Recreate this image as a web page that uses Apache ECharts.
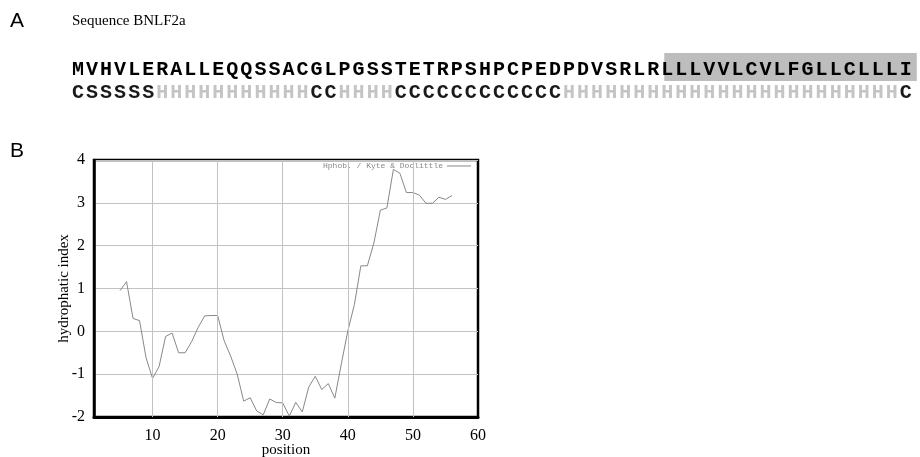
<!DOCTYPE html>
<html>
<head>
<meta charset="utf-8">
<script src="https://cdn.jsdelivr.net/npm/echarts@6/dist/echarts.min.js"></script>
<style>html,body{margin:0;padding:0;background:#fff;}#c{width:920px;height:457px;}</style>
</head>
<body>
<div id="c"></div>
<script>
// ---- data ----
var sequenceTitle = 'Sequence BNLF2a';
var sequence = 'MVHVLERALLEQQSSACGLPGSSTETRPSHPCPEDPDVSRLRLLLVVLCVLFGLLCLLLI';
var structure = 'CSSSSSHHHHHHHHHHHCCHHHHCCCCCCCCCCCCHHHHHHHHHHHHHHHHHHHHHHHHC';
var tmStart = 42;   // index of first highlighted residue (0-based)
var tmEnd = 60;     // exclusive
var positions = [5,6,7,8,9,10,11,12,13,14,15,16,17,18,19,20,21,22,23,24,25,26,27,28,29,30,
                 31,32,33,34,35,36,37,38,39,40,41,42,43,44,45,46,47,48,49,50,51,52,53,54,55,56];
var hydro = [0.95,1.16,0.30,0.25,-0.62,-1.10,-0.82,-0.12,-0.04,-0.50,-0.50,-0.24,0.09,0.36,0.37,0.37,
             -0.22,-0.58,-1.00,-1.63,-1.55,-1.86,-1.95,-1.58,-1.66,-1.67,-1.98,-1.66,-1.88,-1.30,-1.05,
             -1.36,-1.22,-1.56,-0.76,0.01,0.62,1.53,1.53,2.06,2.83,2.88,3.78,3.69,3.24,3.24,3.18,2.99,
             2.99,3.13,3.08,3.17];
var xTicks = [10,20,30,40,50,60];
var xGridLines = [10,20,30,40,50];
var legendLabel = 'Hphob. / Kyte & Doolittle';
var xName = 'position';
var yName = 'hydrophatic index';

// ---- build ----
var chart = echarts.init(document.getElementById('c'), null, {renderer:'canvas'});
var serif = '"Liberation Serif","Times New Roman",serif';
var mono = '"Liberation Mono","Courier New",monospace';

var x0 = 71, cw = 14.03;
var graphics = [
  {type:'text', left:10, top:11, style:{text:'A', font:'21px "Liberation Sans",Arial,sans-serif', fill:'#000'}},
  {type:'text', left:72, top:14, style:{text:sequenceTitle, font:'15px '+serif, fill:'#000'}},
  {type:'text', left:10, top:141, style:{text:'B', font:'21px "Liberation Sans",Arial,sans-serif', fill:'#000'}},
  {type:'rect', shape:{x:x0+tmStart*cw+4, y:53, width:(tmEnd-tmStart)*cw, height:28}, style:{fill:'#bdbdbd'}, z:0}
];
for (var i = 0; i < sequence.length; i++) {
  graphics.push({type:'text', x:x0+(i+0.5)*cw, y:70, z:2,
    style:{text:sequence[i], font:'bold 20px '+mono, fill:'#000', align:'center', verticalAlign:'middle'}});
}
for (var j = 0; j < structure.length; j++) {
  var ch = structure[j];
  graphics.push({type:'text', x:x0+(j+0.5)*cw, y:93, z:2,
    style:{text:ch, font:'bold 20px '+mono, fill:(ch==='H'?'#c4c4c4':'#1a1a1a'), align:'center', verticalAlign:'middle'}});
}
// legend inside plot
graphics.push({type:'text', x:443, y:166, z:5, style:{text:legendLabel, font:'8px '+mono, fill:'#888', align:'right', verticalAlign:'middle'}});
graphics.push({type:'line', shape:{x1:447, y1:166, x2:471, y2:166}, z:5, style:{stroke:'#888', lineWidth:1}});

var seriesData = positions.map(function(p, k){ return [p, hydro[k]]; });

chart.setOption({
  animation:false,
  backgroundColor:'#fff',
  grid:{left:94, right:442, top:160, bottom:40, show:true, borderColor:'#000', borderWidth:2.5,
        backgroundColor:'transparent', containLabel:false, outerBoundsMode:'none'},
  xAxis:{
    type:'value', min:1, max:60,
    name:xName, nameLocation:'middle', nameGap:26, nameMoveOverlap:false,
    nameTextStyle:{fontFamily:serif, fontSize:15, color:'#000'},
    axisLine:{show:true, onZero:false, lineStyle:{color:'#000', width:3}},
    axisTick:{show:false},
    splitLine:{show:false},
    axisLabel:{customValues:xTicks, fontFamily:serif, fontSize:16, color:'#000', margin:11}
  },
  yAxis:{
    type:'value', min:-2, max:4, interval:1,
    name:yName, nameLocation:'middle', nameGap:22, nameMoveOverlap:false,
    nameTextStyle:{fontFamily:serif, fontSize:15, color:'#000'},
    axisLine:{show:true, onZero:false, lineStyle:{color:'#000', width:2.5}},
    axisTick:{show:false},
    splitLine:{show:true, lineStyle:{color:'#c2c2c2', width:1}},
    axisLabel:{fontFamily:serif, fontSize:16, color:'#000', margin:9}
  },
  series:[{
    type:'line', data:seriesData, showSymbol:false, symbol:'none',
    lineStyle:{color:'#888', width:1}, z:3,
    markLine:{silent:true, symbol:'none', label:{show:false},
      lineStyle:{color:'#c2c2c2', width:1, type:'solid'},
      data:xGridLines.map(function(v){ return {xAxis:v}; })}
  }],
  graphic:graphics
});
</script>
</body>
</html>
